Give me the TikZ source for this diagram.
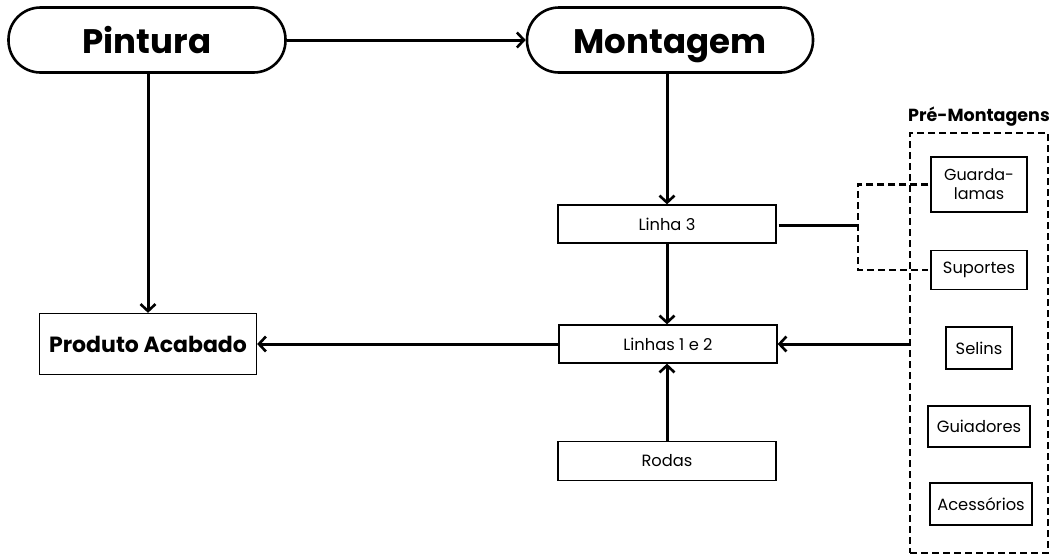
\documentclass[tikz,border=0pt]{standalone}
\usepackage{fontspec}
\setmainfont{Poppins}
\usetikzlibrary{arrows.meta}
\begin{document}
\begin{tikzpicture}[x=1pt,y=-1pt,
  pill/.style={draw, line width=2.6pt, rounded corners=32pt, minimum height=65pt,
    inner sep=0pt, text height=26pt, text depth=0pt,
    font=\fontsize{34}{40}\selectfont\bfseries},
  box/.style={draw, line width=1.3pt, inner sep=0pt, align=center,
    font=\fontsize{16.3}{19}\selectfont},
  bigbox/.style={draw, line width=1.3pt, inner sep=0pt,
    font=\fontsize{22}{26}\selectfont\bfseries},
  conn/.style={line width=3pt, -{Straight Barb[length=7pt,width=15pt,line width=2.6pt]}},
  link/.style={line width=3pt},
  dashedline/.style={line width=2.6pt, dash pattern=on 7pt off 4pt},
]
\useasboundingbox (0,0) rectangle (1051,555);

% main stages
\node[pill, minimum width=277pt] (pint) at (147,40) {Pintura};
\node[pill, minimum width=286pt] (mont) at (670,40) {Montagem};

% finished product
\node[bigbox, minimum width=217pt, minimum height=61pt] (prod) at (148,344) {Produto Acabado};

% assembly lines
\node[box, minimum width=218pt, minimum height=38pt] (l3) at (667,224) {Linha 3};
\node[box, minimum width=218pt, minimum height=38pt] (l12) at (668,344) {Linhas 1 e 2};
\node[box, minimum width=218pt, minimum height=39pt] (rod) at (667,461) {Rodas};

% pre-assembly group
\node[draw, dashedline, minimum width=138pt, minimum height=420pt, inner sep=0pt] (pre) at (979,343) {};
\node[font=\fontsize{17.5}{20}\selectfont\bfseries] (pretitle) at (979,117) {Pré-Montagens};
\node[box, minimum width=96pt, minimum height=55pt, font=\fontsize{16}{19}\selectfont] (gl) at (979,184.5) {Guarda-\\lamas};
\node[box, minimum width=96pt, minimum height=39pt] (sup) at (979,270) {Suportes};
\node[box, minimum width=66pt, minimum height=42pt] (sel) at (979,348) {Selins};
\node[box, minimum width=102pt, minimum height=41pt] (gui) at (979,426.5) {Guiadores};
\node[box, minimum width=102pt, minimum height=42pt] (ace) at (981,504) {Acessórios};

% connectors
\draw[conn] (pint.east) -- (mont.west);
\draw[conn] (prod.north |- pint.south) -- (prod.north);
\draw[conn] (l3.north |- mont.south) -- (l3.north);
\draw[conn] (l3.south) -- (l12.north -| l3.south);
\draw[conn] (rod.north) -- (l12.south -| rod.north);
\draw[conn] (l12.west) -- (prod.east);
\draw[conn] (pre.west |- l12.east) -- (l12.east);

% bracket joining Linha 3 to its sub-assemblies
\coordinate (br) at (858,225);
\draw[link] ([xshift=2pt]l3.east |- br) -- (br);
\draw[dashedline] ([xshift=-2pt]gl.west) -| (br |- sup.west) -- ([xshift=-2pt]sup.west);
\end{tikzpicture}
\end{document}
